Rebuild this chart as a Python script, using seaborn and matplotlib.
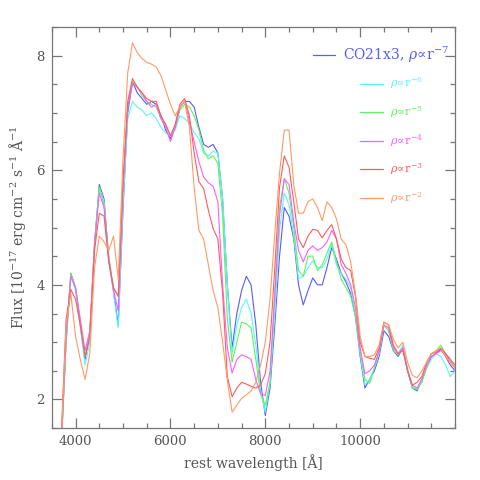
import numpy as np
import pandas as pd
import matplotlib
matplotlib.use("Agg")
import matplotlib.pyplot as plt
import seaborn as sns

# ---------------- data ----------------
wavelength = list(range(3700, 12001, 100))

flux_r7 = [1.2, 3.0, 4.2, 3.95, 3.3, 2.7, 3.1, 4.7, 5.75, 5.5,
           4.45, 3.9, 3.3, 5.3, 7.0, 7.55, 7.35, 7.25, 7.15, 7.2,
           7.15, 6.95, 6.7, 6.55, 6.75, 7.1, 7.2, 7.2, 7.1, 6.75,
           6.45, 6.4, 6.45, 6.3, 5.5, 4.0, 2.9, 3.5, 3.9, 4.15,
           4.0, 3.3, 2.3, 1.72, 2.2, 3.3, 4.5, 5.35, 5.2, 4.8,
           4.0, 3.65, 3.9, 4.12, 4.0, 4.0, 4.3, 4.65, 4.45, 4.2,
           4.05, 3.85, 3.45, 2.75, 2.2, 2.35, 2.5, 2.75, 3.2, 3.1,
           2.85, 2.75, 2.9, 2.5, 2.2, 2.15, 2.35, 2.55, 2.75, 2.8,
           2.88, 2.75, 2.6, 2.5]
flux_r6 = [1.2, 3.0, 4.15, 3.9, 3.25, 2.6, 3.0, 4.7, 5.7, 5.45,
           4.4, 3.85, 3.25, 5.4, 6.9, 7.2, 7.1, 7.05, 6.95, 7.0,
           6.9, 6.75, 6.65, 6.6, 6.7, 6.95, 6.9, 6.82, 6.65, 6.55,
           6.3, 6.25, 6.33, 6.3, 5.5, 4.0, 2.8, 3.3, 3.6, 3.75,
           3.5, 2.95, 2.15, 1.78, 2.3, 3.5, 4.95, 5.6, 5.4, 4.85,
           4.1, 4.15, 4.3, 4.42, 4.3, 4.3, 4.45, 4.7, 4.35, 4.2,
           4.1, 3.95, 3.5, 2.8, 2.25, 2.35, 2.55, 2.8, 3.3, 3.2,
           2.9, 2.8, 2.95, 2.55, 2.22, 2.18, 2.35, 2.55, 2.7, 2.8,
           2.75, 2.6, 2.4, 2.5]
flux_r5 = [1.2, 3.0, 4.2, 3.95, 3.35, 2.75, 3.15, 4.75, 5.7, 5.4,
           4.5, 3.95, 3.8, 5.7, 7.1, 7.55, 7.45, 7.3, 7.2, 7.15,
           7.1, 6.9, 6.8, 6.6, 6.75, 7.05, 7.15, 7.1, 6.95, 6.7,
           6.35, 6.2, 6.25, 6.12, 5.2, 3.4, 2.65, 3.0, 3.35, 3.32,
           3.25, 2.7, 2.1, 1.9, 2.3, 3.9, 5.35, 5.85, 5.6, 5.0,
           4.25, 4.15, 4.5, 4.5, 4.25, 4.35, 4.55, 4.75, 4.4, 4.1,
           3.95, 3.8, 3.45, 2.85, 2.35, 2.28, 2.55, 2.85, 3.3, 3.2,
           2.85, 2.78, 2.88, 2.5, 2.2, 2.18, 2.3, 2.55, 2.8, 2.85,
           2.95, 2.8, 2.7, 2.55]
flux_r4 = [1.25, 3.1, 4.15, 3.95, 3.4, 2.85, 3.2, 4.7, 5.6, 5.35,
           4.45, 3.9, 3.55, 5.7, 7.1, 7.5, 7.45, 7.35, 7.2, 7.1,
           7.15, 6.9, 6.75, 6.5, 6.75, 7.1, 7.2, 6.85, 6.5, 6.15,
           5.88, 5.78, 5.72, 5.45, 4.0, 2.9, 2.46, 2.7, 2.78, 2.75,
           2.7, 2.35, 2.1, 2.07, 2.5, 3.8, 5.2, 5.85, 5.75, 5.1,
           4.6, 4.4, 4.6, 4.68, 4.6, 4.65, 4.75, 4.95, 4.8, 4.35,
           4.2, 4.0, 3.6, 2.9, 2.45, 2.5, 2.6, 2.85, 3.3, 3.25,
           2.9, 2.8, 2.9, 2.5, 2.25, 2.2, 2.35, 2.6, 2.75, 2.8,
           2.85, 2.8, 2.65, 2.55]
flux_r3 = [1.4, 3.4, 3.92, 3.75, 3.3, 2.75, 3.1, 4.6, 5.25, 5.2,
           4.4, 3.95, 3.8, 5.8, 7.2, 7.6, 7.45, 7.35, 7.25, 7.2,
           7.2, 6.95, 6.8, 6.6, 6.8, 7.15, 7.25, 6.95, 6.3, 5.8,
           5.68, 5.3, 4.98, 4.8, 3.85, 2.4, 2.05, 2.2, 2.3, 2.27,
           2.23, 2.2, 2.25, 2.45, 3.0, 4.3, 5.7, 6.25, 6.05, 5.45,
           4.8, 4.65, 4.85, 4.97, 4.95, 4.82, 4.95, 5.05, 4.8, 4.45,
           4.3, 4.25, 3.8, 3.0, 2.75, 2.72, 2.7, 2.9, 3.35, 3.3,
           2.95, 2.8, 2.85, 2.5, 2.25, 2.3, 2.4, 2.65, 2.8, 2.82,
           2.9, 2.8, 2.7, 2.6]
flux_r2 = [1.3, 3.3, 3.85, 3.1, 2.7, 2.35, 2.8, 4.3, 4.85, 4.75,
           4.6, 4.85, 4.1, 6.2, 7.7, 8.22, 8.05, 7.95, 7.88, 7.85,
           7.8, 7.65, 7.4, 7.15, 6.95, 7.1, 7.2, 6.75, 5.7, 4.95,
           4.8, 4.35, 3.9, 3.6, 3.0, 2.33, 1.78, 1.9, 2.02, 2.08,
           2.15, 2.3, 2.6, 3.0, 3.75, 4.9, 5.95, 6.7, 6.7, 5.75,
           5.25, 5.25, 5.45, 5.5, 5.35, 5.12, 5.45, 5.35, 5.15, 4.8,
           4.7, 4.4, 3.85, 3.1, 2.75, 2.75, 2.78, 2.95, 3.35, 3.3,
           3.05, 2.9, 3.0, 2.65, 2.42, 2.38, 2.5, 2.65, 2.8, 2.85,
           2.9, 2.75, 2.65, 2.55]

models = ["r-7", "r-6", "r-5", "r-4", "r-3", "r-2"]
series = [flux_r7, flux_r6, flux_r5, flux_r4, flux_r3, flux_r2]
colors = ["#5a5aff", "#5cf5f5", "#5cf55c", "#ff5cff", "#ff5c5c", "#ff9a66"]
labels = [r"CO21x3, $\rho\!\propto\!$r$^{-7}$", r"$\rho\!\propto\!$r$^{-6}$",
          r"$\rho\!\propto\!$r$^{-5}$", r"$\rho\!\propto\!$r$^{-4}$",
          r"$\rho\!\propto\!$r$^{-3}$", r"$\rho\!\propto\!$r$^{-2}$"]

df = pd.concat([pd.DataFrame({"wavelength": wavelength, "flux": s, "model": m})
                for m, s in zip(models, series)], ignore_index=True)

# ---------------- plot ----------------
sns.set_style("ticks")
plt.rcParams["font.family"] = ["DejaVu Serif"]
plt.rcParams["mathtext.fontset"] = "dejavuserif"

fig = plt.figure(figsize=(4.8, 4.8), dpi=100)
ax = fig.add_axes([0.108, 0.108, 0.840, 0.836])

sns.lineplot(data=df, x="wavelength", y="flux", hue="model", hue_order=models,
             palette=colors, legend=False, linewidth=0.8, ax=ax, sort=False)

ax.set_xlim(3500, 12000)
ax.set_ylim(1.5, 8.5)
ax.set_xticks([4000, 6000, 8000, 10000])
ax.set_xticks(np.arange(3500, 12001, 500), minor=True)
ax.set_yticks([2, 4, 6, 8])
ax.set_yticks(np.arange(1.5, 8.51, 0.5), minor=True)

gray = "#555555"
for sp in ax.spines.values():
    sp.set_color("#777777")
    sp.set_linewidth(0.9)
ax.tick_params(which="both", direction="in", top=True, right=True,
               color="#777777", labelcolor=gray, labelsize=9.5, width=0.9)
ax.tick_params(which="major", length=7, pad=5)
ax.tick_params(which="minor", length=3.5)

ax.set_xlabel("rest wavelength [Å]", color=gray, fontsize=10, labelpad=4)
ax.set_ylabel(r"Flux [10$^{-17}$ erg cm$^{-2}$ s$^{-1}$ Å$^{-1}$",
              color=gray, fontsize=10, labelpad=6)

# legend drawn as in the original (line sample + coloured label)
for i, (lab, c) in enumerate(zip(labels, colors)):
    yy = 0.930 - i * 0.0712
    if i == 0:
        x0, x1, xt, fs = 0.648, 0.702, 0.722, 10
    else:
        x0, x1, xt, fs = 0.764, 0.821, 0.839, 8
    ax.plot([x0, x1], [yy, yy], color=c, lw=0.9, transform=ax.transAxes)
    ax.text(xt, yy, lab, color=c, fontsize=fs, va="center", ha="left",
            transform=ax.transAxes)

fig.savefig("out.png", dpi=100)
